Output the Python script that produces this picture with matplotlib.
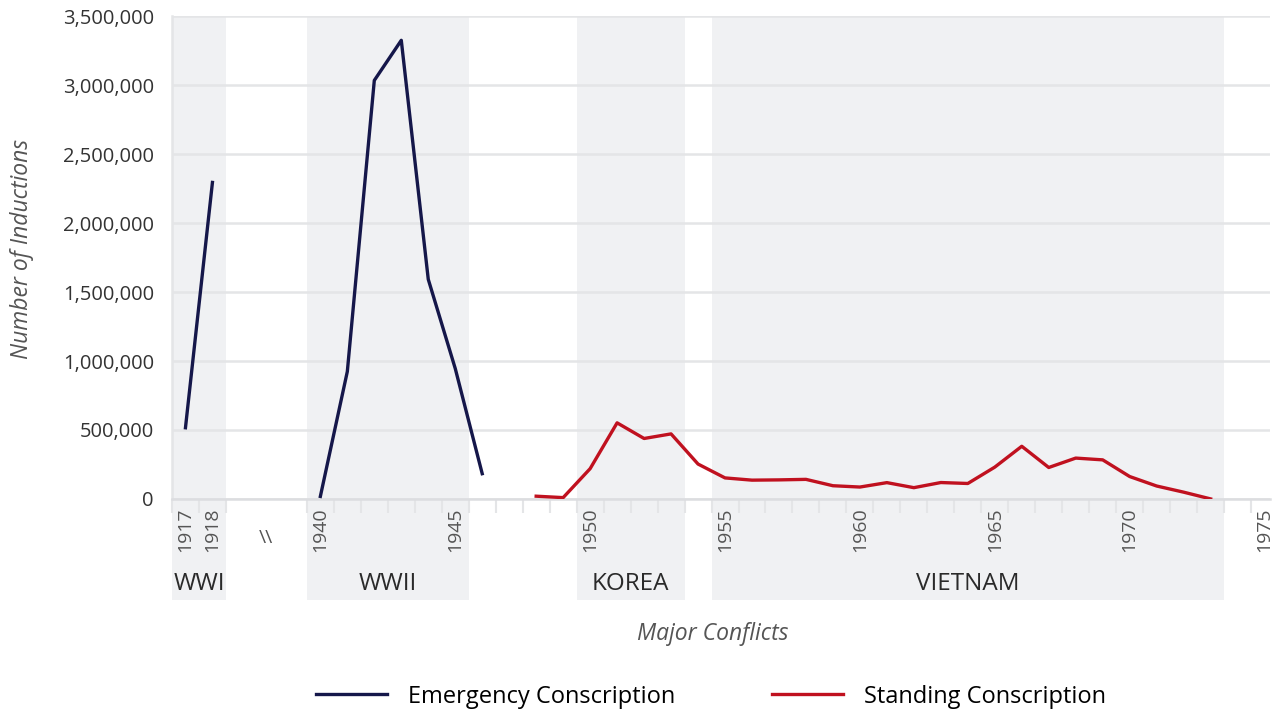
import matplotlib
matplotlib.use("Agg")
import matplotlib.pyplot as plt
import numpy as np

plt.rcParams['font.family'] = ['Open Sans', 'DejaVu Sans']

# data (inductions per year)
wwi_years = [1917, 1918]
wwi_inductions = [516212, 2294084]
wwii_years = [1940, 1941, 1942, 1943, 1944, 1945, 1946]
wwii_inductions = [18633, 923842, 3033361, 3323970, 1591942, 945862, 183383]
standing_years = list(range(1948, 1974))
standing_inductions = [20348, 9993, 219771, 551806, 438479, 471806, 253250,
                       152777, 136580, 138503, 142246, 96153, 86602, 118586,
                       82060, 119265, 112386, 230991, 382010, 228263, 296406,
                       283586, 162746, 94092, 49514, 646]

conflicts = ['WWI', 'WWII', 'KOREA', 'VIETNAM']
conflict_spans = [(1917, 1918), (1940, 1945), (1950, 1953), (1955, 1973)]
year_labels = [1917, 1918, 1940, 1945, 1950, 1955, 1960, 1965, 1970, 1975]

navy = '#15174a'
red = '#c0111f'
shade = '#f0f1f3'
grid = '#e4e5e7'


def pos(y):
    # broken axis: 1917/1918 first, then a gap, then 1940 onwards
    y = np.asarray(y)
    return np.where(y < 1930, y - 1917, y - 1935)


fig = plt.figure(figsize=(12.72, 7.09), dpi=100)
ax = fig.add_axes([0.1352, 0.2962, 0.8632, 0.6812])

for (a, b), name in zip(conflict_spans, conflicts):
    x0, x1 = pos(a) - 0.5, pos(b) + 0.5
    ax.axvspan(x0, x1, ymin=-0.209, ymax=1, color=shade, lw=0, zorder=0,
               clip_on=False)
    ax.text((x0 + x1) / 2, -0.176, name, transform=ax.get_xaxis_transform(),
            ha='center', va='center', fontsize=17.5, color='#2a2a2a')

ax.plot(pos(wwi_years), wwi_inductions, color=navy, lw=2.4, zorder=3)
ax.plot(pos(wwii_years), wwii_inductions, color=navy, lw=2.4, zorder=3,
        label='Emergency Conscription')
ax.plot(pos(standing_years), standing_inductions, color=red, lw=2.4, zorder=3,
        label='Standing Conscription')

ax.set_xlim(-0.5, 40.2)
ax.set_ylim(0, 3500000)
ax.set_yticks(np.arange(0, 3500001, 500000))
ax.set_yticklabels([f'{v:,}' for v in range(0, 3500001, 500000)])
ax.yaxis.grid(True, color=grid, lw=1.8, zorder=1)
ax.set_axisbelow(True)

maj = list(pos(year_labels)) + [3]
labs = [str(y) for y in year_labels] + ['\\\\']
ax.set_xticks(maj)
ax.set_xticklabels(labs, rotation=90, fontsize=14, color='#555555',
                   va='top', ha='center')
for t in ax.get_xticklabels():
    if t.get_text() == '\\\\':
        t.set_rotation(0)
        t.set_y(-0.045)
minor = [-0.5, 0.5, 1.5] + [i + 0.5 for i in range(4, 40)]
ax.set_xticks(minor, minor=True)
ax.tick_params(axis='x', which='major', length=0, pad=6)
ax.tick_params(axis='x', which='minor', length=10, color=grid, width=1.5)
ax.tick_params(axis='y', length=0, labelsize=14.5, labelcolor='#333333', pad=13)

for s in ['top', 'right']:
    ax.spines[s].set_visible(False)
ax.spines['left'].set_color(grid)
ax.spines['left'].set_linewidth(1.8)
ax.spines['bottom'].set_color('#dcdde0')
ax.spines['bottom'].set_linewidth(1.8)

fig.text(0.0173, 0.649, 'Number of Inductions', rotation=90, ha='center',
         va='center', fontsize=16.5, style='italic', color='#555555')
fig.text(0.5605, 0.106, 'Major Conflicts', ha='center', va='center',
         fontsize=16.5, style='italic', color='#555555')

fig.legend(loc='center', bbox_to_anchor=(0.559, 0.0175), ncol=2, frameon=False,
           fontsize=17, handlelength=3.0, handletextpad=0.9, columnspacing=4.1)

fig.savefig('out.png', dpi=100)
